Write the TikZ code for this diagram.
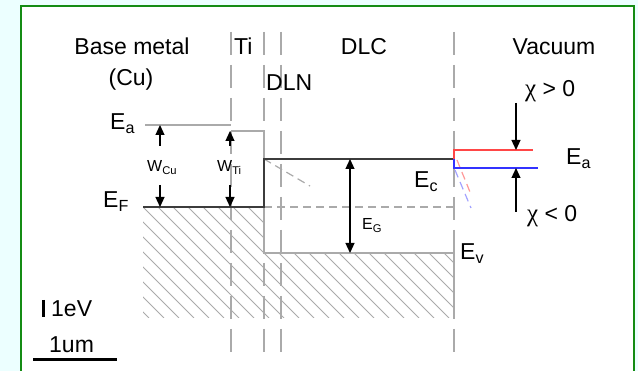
\documentclass[tikz,border=0pt]{standalone}
\usepackage{fontspec}
\setmainfont{Liberation Sans}
\newfontfamily\greekfont{Liberation Serif}
\usetikzlibrary{arrows.meta}
\definecolor{bgcyan}{RGB}{236,255,255}
\definecolor{framegreen}{RGB}{20,140,20}
\definecolor{lvlgray}{RGB}{170,170,170}
\definecolor{darklvl}{RGB}{60,60,60}
\definecolor{redlvl}{RGB}{255,70,70}
\definecolor{bluelvl}{RGB}{50,50,255}
\begin{document}
\begin{tikzpicture}[x=1pt,y=-1pt,
  big/.style={font=\fontsize{23}{26}\selectfont, inner sep=0pt},
  small/.style={font=\fontsize{16}{18}\selectfont, inner sep=0pt},
  sepline/.style={draw=lvlgray, line width=1.3pt, dash pattern=on 23pt off 10pt},
  graylvl/.style={draw=lvlgray, line width=2pt},
  darkline/.style={draw=darklvl, line width=2pt},
  finedash/.style={line width=1.2pt, dash pattern=on 8pt off 5pt},
  hatchline/.style={draw=lvlgray, line width=1pt},
  arr/.style={-{Triangle[length=10pt,width=9pt]}, line width=1.2pt, draw=black},
  darr/.style={{Triangle[length=10pt,width=9pt]}-{Triangle[length=10pt,width=9pt]}, line width=1.2pt, draw=black}]
\useasboundingbox (0,0) rectangle (638,371);
\fill[bgcyan] (0,0) rectangle (638,371);
\fill[white] (21,6) rectangle (634,380);
\draw[framegreen, line width=2.5pt] (21,380) -- (21,6) -- (634,6) -- (634,380);

% hatched filled bands
\begin{scope}
  \clip (143,207) -- (264,207) -- (264,253) -- (454,253) -- (454,318) -- (143,318) -- cycle;
  \foreach \i in {-8,...,22} {
    \draw[hatchline] ({143+15*\i},207) -- ({143+15*\i+111},318);
  }
\end{scope}

% separating dashed lines
\coordinate (s1t) at (231,32);  \coordinate (s1b) at (231,352);
\coordinate (s2t) at (264,32);  \coordinate (s2b) at (264,352);
\coordinate (s3t) at (281,32);  \coordinate (s3b) at (281,352);
\coordinate (s4t) at (454,32);  \coordinate (s4b) at (454,352);
\draw[sepline] (s1t) -- (s1b);
\draw[sepline] (s2t) -- (s2b);
\draw[sepline] (s3t) -- (s3b);
\draw[sepline] (s4t) -- (s4b);

% levels
\coordinate (eaL) at (145,125); \coordinate (eaR) at (231,125);
\coordinate (tiL) at (231,131); \coordinate (tiR) at (264,131);
\coordinate (ecL) at (264,159); \coordinate (ecR) at (454,159);
\coordinate (efL) at (143,207); \coordinate (efR) at (264,207);
\coordinate (efD) at (454,207);
\coordinate (evL) at (264,253); \coordinate (evR) at (454,253);
\coordinate (evB) at (454,318);
\draw[graylvl] (eaL) -- (eaR);
\draw[graylvl] (tiL) -- (tiR) -- (ecL);
\draw[graylvl] (efR) -- (evL) -- (evR) -- (evB);
\draw[lvlgray, finedash] (efR) -- (efD);
\draw[lvlgray, finedash] (ecL) -- (310,186);
\draw[darkline] (efL) -- (efR) -- (ecL) -- (ecR);

% vacuum levels
\coordinate (redL) at (454,150); \coordinate (redR) at (533,150);
\coordinate (blueL) at (454,168); \coordinate (blueR) at (538,168);
\draw[redlvl!55, finedash] (457,160) -- (470,192);
\draw[bluelvl!45, finedash] (455,170) -- (471,208);
\draw[redlvl, line width=2pt] (ecR) -- (redL) -- (redR);
\draw[bluelvl, line width=2pt] (ecR) -- (blueL) -- (blueR);

% arrows
\coordinate (wcuUp) at (160,146); \coordinate (wcuTop) at (160,125);
\coordinate (wcuDn) at (160,185); \coordinate (wcuBot) at (160,207);
\coordinate (wtiUp) at (230,146); \coordinate (wtiTop) at (230,131);
\coordinate (wtiDn) at (230,185); \coordinate (wtiBot) at (230,207);
\draw[arr] (wcuUp) -- (wcuTop);
\draw[arr] (wcuDn) -- (wcuBot);
\draw[arr] (wtiUp) -- (wtiTop);
\draw[arr] (wtiDn) -- (wtiBot);
\coordinate (egT) at (350,159); \coordinate (egB) at (350,253);
\draw[darr] (egT) -- (egB);
\coordinate (chiA) at (516,103); \coordinate (chiAt) at (516,150);
\coordinate (chiB) at (516,212); \coordinate (chiBt) at (516,168);
\draw[arr] (chiA) -- (chiAt);
\draw[arr] (chiB) -- (chiBt);

% scale
\coordinate (evbT) at (43.5,300); \coordinate (evbB) at (43.5,317);
\draw[black, line width=3pt] (evbT) -- (evbB);
\coordinate (umL) at (33,360); \coordinate (umR) at (117,360);
\draw[black, line width=3pt] (umL) -- (umR);

% labels
\node[big, anchor=base] (lbase) at (132,55) {Base metal};
\node[big, anchor=base] (lcu) at (131,86) {(Cu)};
\node[big, anchor=base west] (lti) at (234,55) {Ti};
\node[big, anchor=base west] (ldln) at (266,91) {DLN};
\node[big, anchor=base] (ldlc) at (364,55) {DLC};
\node[big, anchor=base] (lvac) at (554,55) {Vacuum};
\node[big, anchor=base west] (lea) at (110,130) {E\textsubscript{a}};
\node[big, anchor=base west] (lef) at (103,208) {E\textsubscript{F}};
\node[big, anchor=base west] (lec) at (414,188) {E\textsubscript{c}};
\node[big, anchor=base west] (lev) at (460,260) {E\textsubscript{v}};
\node[big, anchor=base west] (lea2) at (566,165) {E\textsubscript{a}};
\node[small, anchor=base west] (leg) at (362,230) {E\textsubscript{G}};
\node[small, anchor=base west] (lwcu) at (147,172) {W\textsubscript{Cu}};
\node[small, anchor=base west] (lwti) at (217,172) {W\textsubscript{Ti}};
\node[big, anchor=base west] (lchi1) at (525,97) {{\greekfont\fontsize{25}{28}\selectfont χ} > 0};
\node[big, anchor=base west] (lchi2) at (527,222) {{\greekfont\fontsize{25}{28}\selectfont χ} < 0};
\node[big, anchor=base west] (l1ev) at (51,317) {1eV};
\node[big, anchor=base west] (l1um) at (49,353) {1um};
\end{tikzpicture}
\end{document}
